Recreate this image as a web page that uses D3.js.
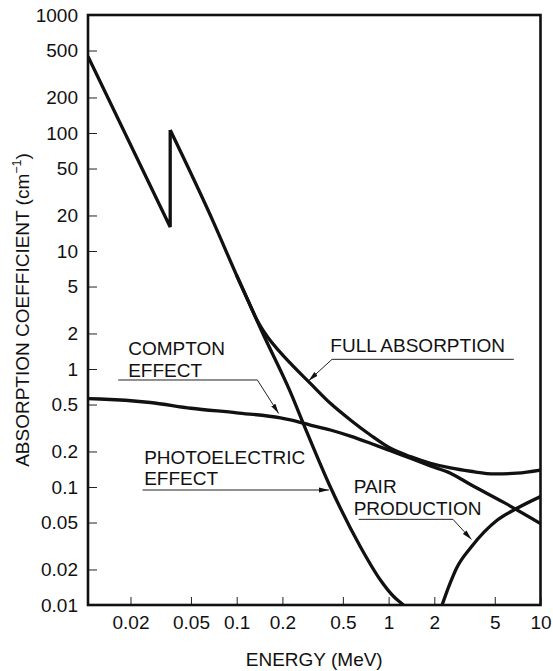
<!DOCTYPE html>
<html>
<head>
<meta charset="utf-8">
<script src="https://cdn.jsdelivr.net/npm/d3@7"></script>
<style>
  html, body { margin: 0; padding: 0; background: #fff; }
  svg { display: block; font-family: "Liberation Sans", Arial, Helvetica, sans-serif; }
</style>
</head>
<body>
<svg id="chart" width="553" height="671"></svg>
<script>
// ---- data ----
const energyTicks = [0.02, 0.05, 0.1, 0.2, 0.5, 1, 2, 5, 10];
const coefTicks = [0.01, 0.02, 0.05, 0.1, 0.2, 0.5, 1, 2, 5, 10, 20, 50, 100, 200, 500, 1000];

// photoelectric, low-energy part with the K edge
const edgeE  = [0.0105, 0.0365, 0.0365];
const edgeMu = [445, 16, 106];
// photoelectric above the edge
const photoE  = [0.0365, 0.0704, 0.1, 0.15, 0.2254, 0.2759, 0.4137, 0.652, 0.883, 1.08, 1.22, 1.32];
const photoMu = [106, 17.5, 6.2, 1.95, 0.64, 0.34, 0.1, 0.0312, 0.0163, 0.0118, 0.0103, 0.0094];
// Compton effect
const comptonE  = [0.0105, 0.0126, 0.027, 0.05, 0.1, 0.194, 0.2254, 0.3054, 0.4137, 0.5603, 0.7589, 1.028, 1.392, 1.886, 2.554, 3.46, 5.73, 10];
const comptonMu = [0.56, 0.557, 0.52, 0.465, 0.425, 0.385, 0.37, 0.335, 0.304, 0.27, 0.235, 0.203, 0.175, 0.151, 0.131, 0.105, 0.074, 0.049];
// full absorption
const fullE  = [0.1, 0.12, 0.136, 0.15, 0.2254, 0.3054, 0.4137, 0.5603, 0.7589, 1.028, 1.392, 1.886, 2.554, 3.46, 5, 7, 10];
const fullMu = [6.2, 3.69, 2.6, 2.1, 1.12, 0.756, 0.512, 0.37, 0.276, 0.213, 0.181, 0.159, 0.145, 0.136, 0.129, 0.131, 0.139];
// pair production
const pairE  = [2.15, 2.25, 2.5, 2.8, 3.5, 5.2, 7, 10];
const pairMu = [0.0085, 0.01, 0.0145, 0.0205, 0.031, 0.0525, 0.066, 0.083];

// annotation texts and their anchors (data units)
const noteTexts = [["COMPTON", "EFFECT"], ["PHOTOELECTRIC", "EFFECT"], ["FULL ABSORPTION"], ["PAIR", "PRODUCTION"]];
const noteAnchorE  = [0.0193, 0.0246, 0.4137, 0.589];
const noteAnchorMu = [1.314, 0.158, 1.393, 0.0881];
const leaderE  = [[0.0166, 0.1368, 0.189], [0.024, 0.405], [6.67, 0.4244, 0.2977], [0.635, 2.653, 3.512]];
const leaderMu = [[0.807, 0.807, 0.42], [0.0943, 0.0943], [1.208, 1.208, 0.796], [0.0532, 0.0532, 0.0359]];

// ---- drawing ----
const svg = d3.select("#chart");
const mLeft = 88, mRight = 540.5, mTop = 15, mBottom = 605;
const x = d3.scaleLog().domain([0.0105, 10]).range([mLeft, mRight]);
const y = d3.scaleLog().domain([0.01, 1000]).range([mBottom, mTop]);
const fontSize = 19;

const defs = svg.append("defs");
defs.append("clipPath").attr("id", "plotClip")
  .append("rect").attr("x", mLeft).attr("y", mTop).attr("width", mRight - mLeft).attr("height", mBottom - mTop);
defs.append("marker").attr("id", "arrow")
  .attr("markerUnits", "userSpaceOnUse")
  .attr("markerWidth", 10).attr("markerHeight", 6)
  .attr("refX", 10).attr("refY", 3).attr("orient", "auto")
  .append("path").attr("d", "M0,0.5 L10,3 L0,5.5 Z").attr("fill", "#111");

// axes (ticks inward)
const yAxis = d3.axisLeft(y).tickValues(coefTicks).tickSizeInner(-9).tickSizeOuter(0)
  .tickFormat(d => String(d));
const gy = svg.append("g").attr("transform", `translate(${mLeft},0)`).call(yAxis);
gy.select(".domain").remove();
gy.selectAll(".tick line").attr("stroke", "#222").attr("stroke-width", 1);
gy.selectAll(".tick text").attr("x", -10).attr("font-size", fontSize)
  .attr("font-family", "Liberation Sans, Arial, sans-serif").attr("fill", "#111");

const xAxis = d3.axisBottom(x).tickValues(energyTicks).tickSizeInner(-8).tickSizeOuter(0)
  .tickFormat(d => String(d));
const gx = svg.append("g").attr("transform", `translate(0,${mBottom})`).call(xAxis);
gx.select(".domain").remove();
gx.selectAll(".tick line").attr("stroke", "#222").attr("stroke-width", 1);
gx.selectAll(".tick text").attr("y", 11).attr("dy", "0.71em").attr("font-size", fontSize)
  .attr("font-family", "Liberation Sans, Arial, sans-serif").attr("fill", "#111");

// frame
svg.append("rect").attr("x", mLeft).attr("y", mTop).attr("width", mRight - mLeft).attr("height", mBottom - mTop)
  .attr("fill", "none").attr("stroke", "#111").attr("stroke-width", 2.6);

// curves
const plot = svg.append("g").attr("clip-path", "url(#plotClip)");
function drawCurve(es, mus, curve) {
  const pts = es.map((e, i) => [e, mus[i]]);
  const line = d3.line().x(d => x(d[0])).y(d => y(d[1])).curve(curve);
  plot.append("path").attr("d", line(pts)).attr("fill", "none")
    .attr("stroke", "#111").attr("stroke-width", 3.3)
    .attr("stroke-linejoin", "miter").attr("stroke-linecap", "butt");
}
drawCurve(edgeE, edgeMu, d3.curveLinear);
drawCurve(photoE, photoMu, d3.curveMonotoneX);
drawCurve(comptonE, comptonMu, d3.curveMonotoneX);
drawCurve(fullE, fullMu, d3.curveMonotoneX);
drawCurve(pairE, pairMu, d3.curveMonotoneX);

// annotations
noteTexts.forEach((lines, i) => {
  const t = svg.append("text").attr("x", x(noteAnchorE[i])).attr("y", y(noteAnchorMu[i]))
    .attr("font-size", fontSize).attr("fill", "#111");
  lines.forEach((s, j) => {
    t.append("tspan").attr("x", x(noteAnchorE[i])).attr("dy", j === 0 ? 0 : 21.5).text(s);
  });
  const pts = leaderE[i].map((e, k) => [x(e), y(leaderMu[i][k])]);
  svg.append("path").attr("d", d3.line()(pts)).attr("fill", "none")
    .attr("stroke", "#222").attr("stroke-width", 1).attr("marker-end", "url(#arrow)");
});

// axis titles
svg.append("text").attr("x", (mLeft + mRight) / 2).attr("y", 666)
  .attr("text-anchor", "middle").attr("font-size", fontSize).attr("fill", "#111")
  .text("ENERGY (MeV)");

const yt = svg.append("text")
  .attr("transform", `translate(28.5,${(mTop + mBottom) / 2}) rotate(-90)`)
  .attr("text-anchor", "middle").attr("font-size", fontSize).attr("fill", "#111");
yt.append("tspan").text("ABSORPTION COEFFICIENT (cm");
yt.append("tspan").attr("font-size", 12.5).attr("dy", -7.5).text("\u22121");
yt.append("tspan").attr("dy", 7.5).text(")");
</script>
</body>
</html>
